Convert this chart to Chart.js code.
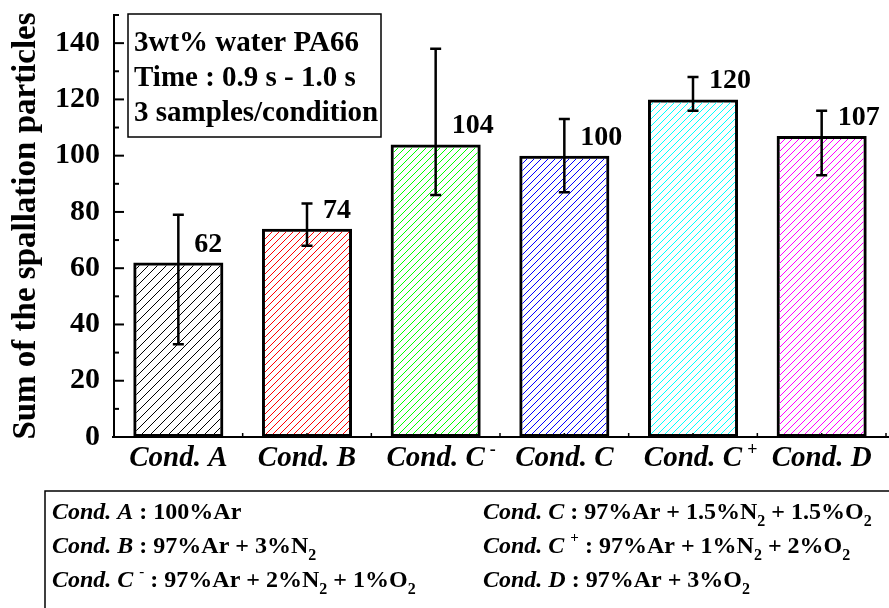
<!DOCTYPE html>
<html>
<head>
<meta charset="utf-8">
<script src="https://cdn.jsdelivr.net/npm/chart.js@4.4.0/dist/chart.umd.min.js"></script>
<style>
html, body { margin: 0; padding: 0; background: #fff; }
canvas { display: block; }
</style>
</head>
<body>
<canvas id="grafico" width="889" height="608"></canvas>
<script>
// datos del grafico
var categorias = ['Cond. A', 'Cond. B', 'Cond. C', 'Cond. C', 'Cond. C', 'Cond. D'];
var superindices = ['', '', '-', '', '+', ''];
var valores = [62, 74, 104, 100, 120, 107];
var errorAlto = [79, 83, 138, 113, 128, 116];
var errorBajo = [33, 68, 86, 87, 116, 93];
var etiquetasValor = ['62', '74', '104', '100', '120', '107'];
var gases = ['100%Ar', '97%Ar + 3%N_2', '97%Ar + 2%N_2 + 1%O_2',
             '97%Ar + 1.5%N_2 + 1.5%O_2', '97%Ar + 1%N_2 + 2%O_2', '97%Ar + 3%O_2'];
var cuadroTexto = ['3wt% water PA66', 'Time : 0.9 s - 1.0 s', '3 samples/condition'];
var tituloY = 'Sum of the spallation particles';

var coloresTrama = ['#000000', '#ff0000', '#00ff00', '#0000ff', '#00ffff', '#ff00ff'];
var pasoTrama = [9, 7, 7, 7, 7, 7];
var FUENTE = '"Liberation Serif", "Times New Roman", serif';

var canvas = document.getElementById('grafico');
var ctx = canvas.getContext('2d');

// Funcion para crear el rayado diagonal de cada barra
function crearTrama(color, paso) {
    var c = document.createElement('canvas');
    c.width = paso;
    c.height = paso;
    var g = c.getContext('2d');
    g.strokeStyle = color;
    g.lineWidth = 1;
    g.beginPath();
    g.moveTo(0, paso); g.lineTo(paso, 0);
    g.moveTo(-paso / 2, paso / 2); g.lineTo(paso / 2, -paso / 2);
    g.moveTo(paso / 2, paso * 1.5); g.lineTo(paso * 1.5, paso / 2);
    g.stroke();
    return ctx.createPattern(c, 'repeat');
}

var tramas = coloresTrama.map(function (c, i) { return crearTrama(c, pasoTrama[i]); });

// dibuja trozos de texto seguidos: [texto, fuente, desplazamiento y]
function textoCompuesto(c, x, y, partes) {
    partes.forEach(function (p) {
        c.font = p[1];
        c.fillText(p[0], x, y + (p[2] || 0));
        x += c.measureText(p[0]).width;
    });
    return x;
}

function partesGas(gas, tam) {
    var trozos = gas.split(/_(\d)/);
    var partes = [];
    trozos.forEach(function (t, k) {
        if (t === '') return;
        if (k % 2 === 1) partes.push([t, 'bold ' + Math.round(tam * 0.65) + 'px ' + FUENTE, 7]);
        else partes.push([t, 'bold ' + tam + 'px ' + FUENTE, 0]);
    });
    return partes;
}

var extras = {
    id: 'extras',
    afterDatasetsDraw: function (chart) {
        var c = chart.ctx;
        var y = chart.scales.y;
        var meta = chart.getDatasetMeta(0);
        c.save();
        c.strokeStyle = '#000';
        c.lineWidth = 2.5;
        meta.data.forEach(function (bar, i) {
            var yA = y.getPixelForValue(errorAlto[i]);
            var yB = y.getPixelForValue(errorBajo[i]);
            c.beginPath();
            c.moveTo(bar.x, yA); c.lineTo(bar.x, yB);
            c.moveTo(bar.x - 5.5, yA); c.lineTo(bar.x + 5.5, yA);
            c.moveTo(bar.x - 5.5, yB); c.lineTo(bar.x + 5.5, yB);
            c.stroke();
            // etiqueta del valor
            c.fillStyle = '#000';
            c.font = 'bold 28px ' + FUENTE;
            c.textAlign = 'left';
            c.textBaseline = 'alphabetic';
            c.fillText(etiquetasValor[i], bar.x + 16, bar.y - 11);
        });
        c.restore();
    },
    afterDraw: function (chart) {
        var c = chart.ctx;
        var area = chart.chartArea;
        var x = chart.scales.x;
        var y = chart.scales.y;
        c.save();
        c.strokeStyle = '#000';
        c.fillStyle = '#000';

        // marcas del eje y hacia dentro
        c.lineWidth = 2;
        for (var v = 10; v <= 150; v += 10) {
            var py = y.getPixelForValue(v);
            c.beginPath();
            c.moveTo(area.left, py);
            c.lineTo(area.left + (v % 20 === 0 ? 10 : 5), py);
            c.stroke();
        }
        // prolongar eje x
        c.beginPath();
        c.moveTo(area.left - 2, area.bottom);
        c.lineTo(889, area.bottom);
        c.stroke();
        // marcas del eje x
        c.lineWidth = 1.5;
        var ancho = (area.right - area.left) / categorias.length;
        for (var i = 0; i <= categorias.length * 2; i++) {
            var px = area.left + i * ancho / 2;
            c.beginPath();
            c.moveTo(px, area.bottom);
            c.lineTo(px, area.bottom - 4);
            c.stroke();
        }

        // etiquetas del eje x con superindice
        c.textBaseline = 'alphabetic';
        categorias.forEach(function (cat, i) {
            var cx = x.getPixelForValue(i);
            c.font = 'italic bold 29px ' + FUENTE;
            var w = c.measureText(cat).width;
            c.textAlign = 'left';
            c.fillText(cat, cx - w / 2, 466);
            if (superindices[i]) {
                c.font = 'bold 18px ' + FUENTE;
                c.fillText(superindices[i], cx + w / 2 + 5, 455);
            }
        });

        // cuadro de texto
        c.lineWidth = 1.5;
        c.strokeRect(128, 14, 253, 123);
        c.font = 'bold 29px ' + FUENTE;
        cuadroTexto.forEach(function (t, k) {
            c.fillText(t, 134, 51 + k * 35);
        });

        // leyenda de condiciones
        c.strokeRect(45, 491, 900, 200);
        categorias.forEach(function (cat, i) {
            var col = i < 3 ? 0 : 1;
            var fila = i % 3;
            var x0 = col === 0 ? 52 : 483;
            var y0 = 519 + fila * 34;
            var partes = [[cat, 'italic bold 24px ' + FUENTE, 0]];
            if (superindices[i]) {
                partes.push([' ', 'bold 24px ' + FUENTE, 0]);
                partes.push([superindices[i], 'bold 15px ' + FUENTE, -11]);
            }
            partes.push([' : ', 'bold 24px ' + FUENTE, 0]);
            partes = partes.concat(partesGas(gases[i], 24));
            textoCompuesto(c, x0, y0, partes);
        });
        c.restore();
    }
};

new Chart(ctx, {
    type: 'bar',
    data: {
        labels: categorias.map(function (c, i) { return c + superindices[i]; }),
        datasets: [{
            data: valores,
            backgroundColor: tramas,
            borderColor: '#000',
            borderWidth: 3,
            borderSkipped: false,
            barPercentage: 0.7,
            categoryPercentage: 1
        }]
    },
    options: {
        responsive: false,
        animation: false,
        layout: { padding: { top: 15, right: 3, left: 0, bottom: 0 } },
        plugins: { legend: { display: false }, tooltip: { enabled: false } },
        scales: {
            x: {
                grid: { display: false, drawTicks: false },
                border: { color: '#000', width: 2 },
                ticks: { display: false },
                afterFit: function (s) { s.height = 171; s.paddingLeft = 0; s.paddingRight = 0; }
            },
            y: {
                min: 0,
                max: 150,
                grid: { display: false, drawTicks: false },
                border: { color: '#000', width: 2 },
                ticks: {
                    stepSize: 10,
                    autoSkip: false,
                    padding: 14,
                    color: '#000',
                    font: { family: FUENTE, size: 30, weight: 'bold' },
                    callback: function (v) { return (v % 20 === 0 && v < 150) ? v : ''; }
                },
                title: {
                    display: true,
                    text: tituloY,
                    color: '#000',
                    padding: { top: 7, bottom: 0 },
                    font: { family: FUENTE, size: 33, weight: 'bold' }
                },
                afterFit: function (s) { s.width = 114; s.paddingTop = 0; s.paddingBottom = 0; }
            }
        }
    },
    plugins: [extras]
});
</script>
</body>
</html>
